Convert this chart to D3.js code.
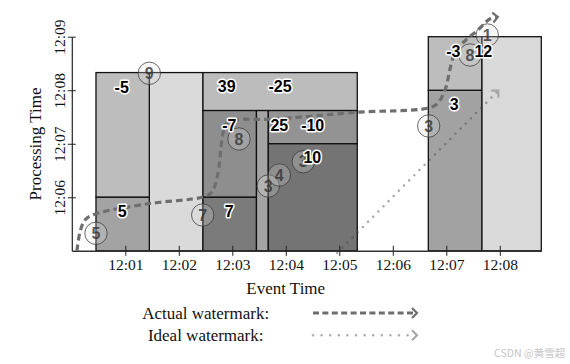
<!DOCTYPE html>
<html>
<head>
<meta charset="utf-8">
<script src="https://cdn.jsdelivr.net/npm/d3@7"></script>
<style>
  body { margin: 0; background: #fff; }
  svg { display: block; }
</style>
</head>
<body>
<svg id="chart" width="570" height="364"></svg>
<script>
// all times are minutes after 12:00
var xTicks = [1, 2, 3, 4, 5, 6, 7, 8];
var yTicks = [6, 7, 8, 9];

// panes: event-time span (x0..x1) and processing-time span (y0..y1)
var panes = [
  { id: "a2", x0: 1.449, x1: 2.452, y0: 5, y1: 8.33 },
  { id: "a1top", x0: 0.452, x1: 1.449, y0: 6, y1: 8.33 },
  { id: "a1low", x0: 0.452, x1: 1.449, y0: 5, y1: 6 },
  { id: "btop", x0: 2.452, x1: 5.336, y0: 7.62, y1: 8.33 },
  { id: "b1mid", x0: 2.452, x1: 3.452, y0: 6, y1: 7.62 },
  { id: "b1low", x0: 2.452, x1: 3.452, y0: 5, y1: 6 },
  { id: "bstrip", x0: 3.452, x1: 3.673, y0: 5, y1: 7.62 },
  { id: "b2mid", x0: 3.673, x1: 5.336, y0: 7.0, y1: 7.62 },
  { id: "b2low", x0: 3.673, x1: 5.336, y0: 5, y1: 7.0 },
  { id: "c1low", x0: 6.664, x1: 7.667, y0: 5, y1: 8 },
  { id: "c1top", x0: 6.664, x1: 7.667, y0: 8, y1: 9 },
  { id: "c2", x0: 7.667, x1: 8.776, y0: 5, y1: 9 }
];

// input records: value, event time, processing time
var inputs = [
  { v: 5, e: 0.452, p: 5.327 },
  { v: 9, e: 1.449, p: 8.316 },
  { v: 7, e: 2.447, p: 5.669 },
  { v: 8, e: 3.125, p: 7.089 },
  { v: 3, e: 3.673, p: 6.211 },
  { v: 4, e: 3.879, p: 6.416 },
  { v: 3, e: 4.327, p: 6.665 },
  { v: 3, e: 6.671, p: 7.332 },
  { v: 8, e: 7.443, p: 8.658 },
  { v: 1, e: 7.766, p: 9.032 }
];

// emitted results
var outputs = [
  { t: "-5", e: 0.933, p: 8.047 },
  { t: "5", e: 0.944, p: 5.744 },
  { t: "39", e: 2.895, p: 8.066 },
  { t: "-25", e: 3.892, p: 8.066 },
  { t: "-7", e: 2.944, p: 7.345 },
  { t: "25", e: 3.879, p: 7.345 },
  { t: "-10", e: 4.503, p: 7.345 },
  { t: "10", e: 4.495, p: 6.74 },
  { t: "7", e: 2.944, p: 5.731 },
  { t: "3", e: 7.15, p: 7.743 },
  { t: "-3", e: 7.131, p: 8.72 },
  { t: "12", e: 7.692, p: 8.72 }
];

// watermarks as [event, processing]
var actualWatermark = [
  [0.097, 5.0], [0.153, 5.35], [0.247, 5.576], [0.415, 5.68], [1.462, 5.884],
  [2.452, 6.005], [2.62, 6.099], [2.733, 6.454], [2.807, 7.07], [2.882, 7.369],
  [3.05, 7.444], [3.705, 7.457], [5.331, 7.588], [6.64, 7.662], [6.826, 7.743],
  [6.976, 8.004], [7.088, 8.471], [7.181, 8.752], [7.368, 8.938], [7.59, 9.125],
  [7.813, 9.331], [7.944, 9.368]
];
var idealWatermark = [[4.96, 4.96], [7.96, 7.98]];

var legendNames = ["Actual watermark:", "Ideal watermark:"];

var svg = d3.select("#chart");

var x = d3.scaleLinear().domain([0, 8.776]).range([71.8, 541.3]);
var y = d3.scaleLinear().domain([5, 9]).range([250.8, 36.7]);

var shade = d3.scaleOrdinal()
  .domain(panes.map(function (d) { return d.id; }))
  .range(["#dadada", "#bdbdbd", "#a3a3a3", "#bcbcbc", "#8e8e8e", "#7b7b7b",
          "#a4a4a4", "#939393", "#747474", "#a2a2a2", "#bdbdbd", "#dadada"]);

var defs = svg.append("defs");
function chevron(id, color) {
  defs.append("marker")
    .attr("id", id)
    .attr("markerUnits", "userSpaceOnUse")
    .attr("viewBox", "-8 -8 16 16")
    .attr("markerWidth", 16).attr("markerHeight", 16)
    .attr("orient", "auto")
    .append("path")
    .attr("d", "M-4,-5 L1,0 L-4,5")
    .attr("fill", "none")
    .attr("stroke", color)
    .attr("stroke-width", 2.2);
}
chevron("arrActual", "#6e6e6e");
chevron("arrIdeal", "#a8a8a8");

// panes
svg.append("g").selectAll("rect")
  .data(panes)
  .enter().append("rect")
  .attr("x", function (d) { return x(d.x0); })
  .attr("y", function (d) { return y(d.y1); })
  .attr("width", function (d) { return x(d.x1) - x(d.x0); })
  .attr("height", function (d) { return y(d.y0) - y(d.y1); })
  .attr("fill", function (d) { return shade(d.id); })
  .attr("stroke", "#111")
  .attr("stroke-width", 1.3);

// axes
var xAxis = svg.append("g")
  .attr("transform", "translate(0," + y(5) + ")")
  .call(d3.axisBottom(x).tickValues(xTicks).tickSize(5).tickSizeOuter(0)
    .tickFormat(function (d) { return "12:0" + d; }));
xAxis.selectAll(".tick line").attr("y1", -5).attr("y2", 5).attr("stroke", "#222");
xAxis.select(".domain").attr("stroke", "#333").attr("stroke-width", 1.4);

var yAxis = svg.append("g")
  .attr("transform", "translate(" + x(0) + ",0)")
  .call(d3.axisLeft(y).tickValues(yTicks).tickSize(4).tickSizeOuter(0)
    .tickFormat(function (d) { return "12:0" + d; }));
yAxis.selectAll(".tick line").attr("x1", -4).attr("x2", 4).attr("stroke", "#222");
yAxis.select(".domain").attr("stroke", "#222").attr("stroke-width", 1.2);
yAxis.selectAll(".tick text")
  .attr("transform", "rotate(-90)")
  .attr("x", 0).attr("y", -7).attr("dy", 0)
  .attr("text-anchor", "middle");

svg.selectAll(".tick text")
  .attr("font-family", "'Liberation Serif', serif")
  .attr("font-size", 15.5)
  .attr("fill", "#111");

svg.append("text")
  .attr("x", 285.7).attr("y", 293.5)
  .attr("text-anchor", "middle")
  .attr("font-family", "'Liberation Serif', serif")
  .attr("font-size", 17)
  .attr("fill", "#111")
  .text("Event Time");

svg.append("text")
  .attr("transform", "translate(41,144) rotate(-90)")
  .attr("text-anchor", "middle")
  .attr("font-family", "'Liberation Serif', serif")
  .attr("font-size", 17)
  .attr("fill", "#111")
  .text("Processing Time");

// ideal watermark
var line = d3.line()
  .x(function (d) { return x(d[0]); })
  .y(function (d) { return y(d[1]); });

svg.append("path")
  .datum(idealWatermark)
  .attr("d", line)
  .attr("fill", "none")
  .attr("stroke", "rgba(70,70,70,0.45)")
  .attr("stroke-width", 2.6)
  .attr("stroke-linecap", "round")
  .attr("stroke-dasharray", "0 7.3")
  .attr("marker-end", "url(#arrIdeal)");

// input circles
var dots = svg.append("g").selectAll("g")
  .data(inputs)
  .enter().append("g")
  .attr("transform", function (d) { return "translate(" + x(d.e) + "," + y(d.p) + ")"; });
dots.append("circle")
  .attr("r", 11.2)
  .attr("fill", "rgba(225,225,225,0.25)")
  .attr("stroke", "rgba(50,50,50,0.8)")
  .attr("stroke-width", 0.9);
dots.append("text")
  .attr("text-anchor", "middle")
  .attr("dy", "0.36em")
  .attr("font-family", "'Liberation Sans', sans-serif")
  .attr("font-size", 16)
  .attr("font-weight", "bold")
  .attr("fill", "rgba(50,50,50,0.8)")
  .text(function (d) { return d.v; });

// actual watermark
svg.append("path")
  .datum(actualWatermark)
  .attr("d", line.curve(d3.curveCatmullRom.alpha(0.5)))
  .attr("fill", "none")
  .attr("stroke", "#6e6e6e")
  .attr("stroke-width", 3.2)
  .attr("stroke-dasharray", "6.5 4")
  .attr("marker-end", "url(#arrActual)");

// output values
svg.append("g").selectAll("text")
  .data(outputs)
  .enter().append("text")
  .attr("x", function (d) { return x(d.e); })
  .attr("y", function (d) { return y(d.p); })
  .attr("dy", "0.36em")
  .attr("text-anchor", "middle")
  .attr("font-family", "'Liberation Sans', sans-serif")
  .attr("font-size", 16)
  .attr("font-weight", "bold")
  .attr("fill", "#000")
  .attr("stroke", "#fff")
  .attr("stroke-width", 3)
  .attr("stroke-linejoin", "round")
  .attr("paint-order", "stroke")
  .text(function (d) { return d.t; });

// legend
var legend = svg.append("g").selectAll("g")
  .data(legendNames)
  .enter().append("g")
  .attr("transform", function (d, i) { return "translate(0," + (313 + i * 22.3) + ")"; });
legend.append("text")
  .attr("x", 205.7).attr("y", 5.5)
  .attr("text-anchor", "middle")
  .attr("font-family", "'Liberation Serif', serif")
  .attr("font-size", 17)
  .attr("fill", "#111")
  .text(function (d) { return d; });
legend.append("line")
  .attr("x1", 313).attr("x2", 416)
  .attr("stroke", function (d, i) { return i === 0 ? "#6e6e6e" : "rgba(70,70,70,0.45)"; })
  .attr("stroke-width", function (d, i) { return i === 0 ? 3.2 : 2.6; })
  .attr("stroke-linecap", function (d, i) { return i === 0 ? "butt" : "round"; })
  .attr("stroke-dasharray", function (d, i) { return i === 0 ? "6 3.4" : "0 8.6"; })
  .attr("marker-end", function (d, i) { return i === 0 ? "url(#arrActual)" : "url(#arrIdeal)"; });

svg.append("text")
  .attr("x", 494).attr("y", 357)
  .attr("font-family", "'Noto Sans CJK SC', 'Noto Sans', sans-serif")
  .attr("font-size", 10.5)
  .attr("fill", "#c4c4c4")
  .text("CSDN @黄雪超");
</script>
</body>
</html>
